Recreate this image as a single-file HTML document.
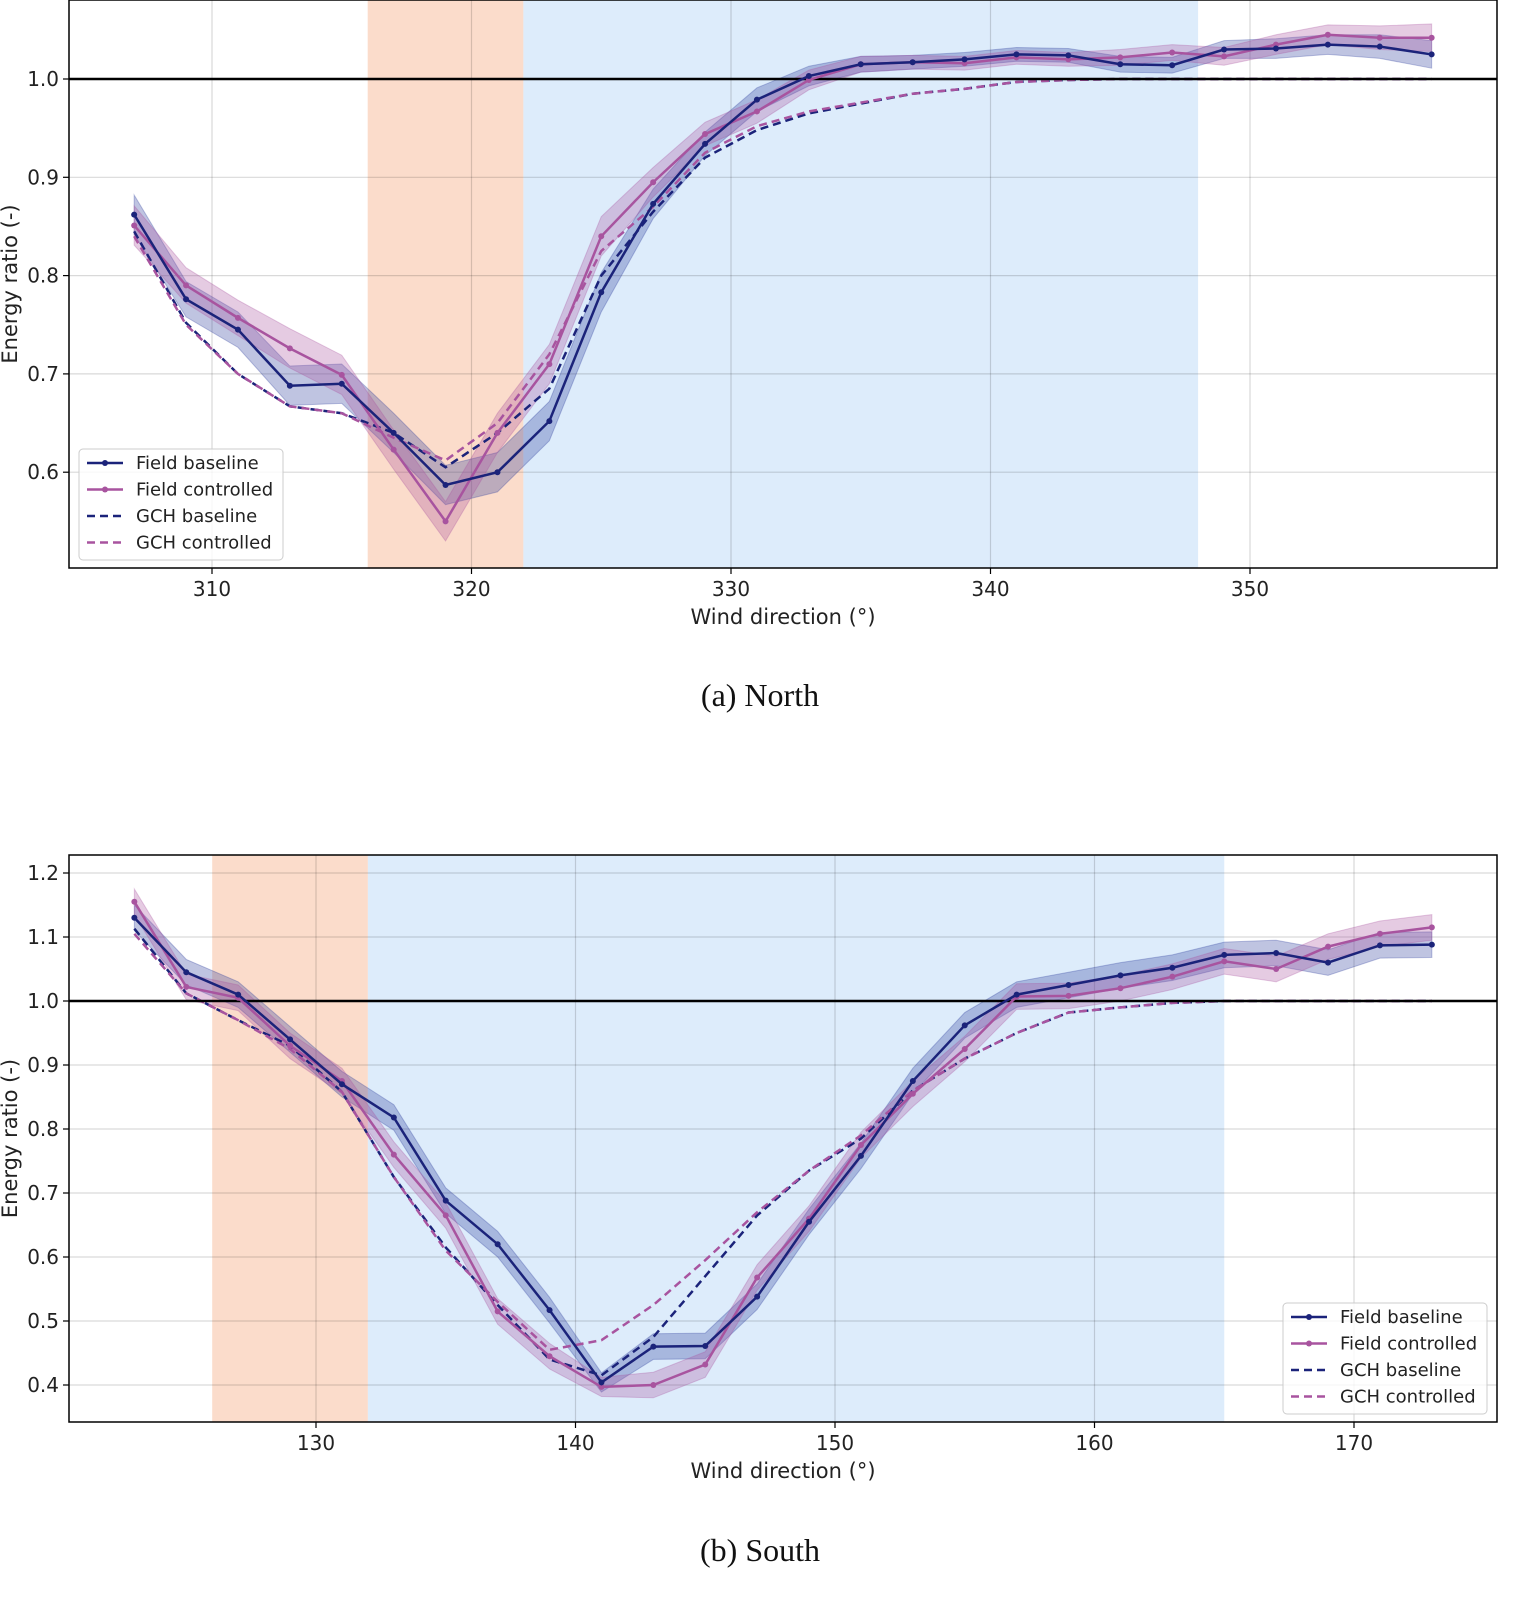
<!DOCTYPE html>
<html><head><meta charset="utf-8"><style>
body{margin:0;background:#fff;width:1530px;height:1601px;overflow:hidden}
svg{font-family:"DejaVu Sans","Liberation Sans",sans-serif}
</style></head><body>
<svg id="s" width="1530" height="1601" xmlns="http://www.w3.org/2000/svg"></svg>
<script>
const northDirs=[307,309,311,313,315,317,319,321,323,325,327,329,331,333,335,337,339,341,343,345,347,349,351,353,355,357];
const northFieldBase=[0.862,0.776,0.745,0.688,0.690,0.640,0.587,0.600,0.652,0.783,0.873,0.934,0.979,1.003,1.015,1.017,1.020,1.025,1.024,1.015,1.014,1.030,1.031,1.035,1.033,1.025];
const northFieldCtrl=[0.851,0.790,0.757,0.726,0.699,0.623,0.550,0.640,0.710,0.840,0.895,0.944,0.967,0.999,1.015,1.017,1.016,1.022,1.020,1.022,1.027,1.023,1.035,1.045,1.042,1.042];
const northGchBase=[0.845,0.752,0.700,0.667,0.660,0.640,0.605,0.640,0.685,0.800,0.865,0.920,0.948,0.965,0.975,0.985,0.990,0.997,0.999,1.0,1.0,1.0,1.0,1.0,1.0,1.0];
const northGchCtrl=[0.840,0.750,0.700,0.667,0.660,0.635,0.612,0.650,0.720,0.825,0.870,0.925,0.952,0.967,0.976,0.985,0.990,0.997,0.999,1.0,1.0,1.0,1.0,1.0,1.0,1.0];
const northBandW=[0.02,0.018,0.018,0.02,0.02,0.02,0.02,0.02,0.02,0.02,0.015,0.012,0.012,0.01,0.008,0.007,0.007,0.007,0.007,0.008,0.008,0.009,0.01,0.01,0.012,0.014];
const southDirs=[123,125,127,129,131,133,135,137,139,141,143,145,147,149,151,153,155,157,159,161,163,165,167,169,171,173];
const southFieldBase=[1.130,1.045,1.010,0.940,0.870,0.818,0.688,0.620,0.517,0.404,0.460,0.461,0.538,0.655,0.758,0.875,0.962,1.010,1.025,1.040,1.052,1.072,1.075,1.060,1.087,1.088];
const southFieldCtrl=[1.155,1.022,1.005,0.930,0.875,0.760,0.665,0.515,0.445,0.397,0.400,0.432,0.568,0.660,0.775,0.855,0.925,1.007,1.008,1.020,1.038,1.062,1.050,1.085,1.105,1.115];
const southGchBase=[1.113,1.012,0.970,0.930,0.858,0.725,0.615,0.525,0.440,0.415,0.475,0.570,0.665,0.735,0.785,0.860,0.910,0.950,0.982,0.990,0.997,1.0,1.0,1.0,1.0,1.0];
const southGchCtrl=[1.105,1.012,0.970,0.925,0.858,0.725,0.610,0.530,0.455,0.470,0.525,0.595,0.670,0.735,0.790,0.860,0.910,0.950,0.982,0.990,0.997,1.0,1.0,1.0,1.0,1.0];
const southBandW=[0.02,0.02,0.02,0.02,0.02,0.02,0.02,0.02,0.02,0.015,0.02,0.02,0.02,0.02,0.02,0.02,0.02,0.02,0.02,0.02,0.02,0.02,0.02,0.02,0.02,0.02];
const northXTicks=[310,320,330,340,350];
const northYTicks=[0.6,0.7,0.8,0.9,1.0];
const southXTicks=[130,140,150,160,170];
const southYTicks=[0.4,0.5,0.6,0.7,0.8,0.9,1.0,1.1,1.2];

const NS="http://www.w3.org/2000/svg";
const svg=document.getElementById('s');
function el(t,a,p){const e=document.createElementNS(NS,t);for(const k in a)e.setAttribute(k,a[k]);(p||svg).appendChild(e);return e;}
const NAVY="#1b237a",PURP="#a8549f";

function chart(o){
  const g=el('g',{});
  
  
  const X=v=>o.x0+(v-o.xv0)*o.xs, Y=v=>o.y0-(v-o.yv0)*o.ys;
  const L=69,R=1497;
  let r=el('rect',{x:X(o.orange[0]),y:o.top,width:X(o.orange[1])-X(o.orange[0]),height:o.bot-o.top,fill:"#fbdccb"},g);
  
  r=el('rect',{x:X(o.blue[0]),y:o.top,width:X(o.blue[1])-X(o.blue[0]),height:o.bot-o.top,fill:"#ddecfb"},g);
  
  o.xt.forEach(t=>{const x=X(t);
    el('line',{x1:x,x2:x,y1:o.top,y2:o.bot,stroke:"#000",'stroke-opacity':0.15,'stroke-width':1.2},g);
    el('line',{x1:x,x2:x,y1:o.bot,y2:o.bot+6,stroke:"#000",'stroke-width':1.2},g);
    const tx=el('text',{x:x,y:o.bot+28,'font-size':20,'text-anchor':'middle',fill:'#222'},g);tx.textContent=t;
    });
  o.yt.forEach(t=>{const y=Y(t);
    el('line',{x1:L,x2:R,y1:y,y2:y,stroke:"#000",'stroke-opacity':0.15,'stroke-width':1.2},g);
    el('line',{x1:L-6,x2:L,y1:y,y2:y,stroke:"#000",'stroke-width':1.2},g);
    const tx=el('text',{x:L-10,y:y+7,'font-size':20,'text-anchor':'end',fill:'#222'},g);tx.textContent=t.toFixed(1);
    });
  function band(vals,w,c,nm){
    let p=vals.map((v,i)=>X(o.d[i])+','+Y(v+w[i])).join(' ')+' '+vals.map((v,i)=>X(o.d[i])+','+Y(v-w[i])).reverse().join(' ');
    const b=el('polygon',{points:p,fill:c,'fill-opacity':0.3,stroke:c,'stroke-opacity':0.3},g);
    }
  band(o.fb,o.bw,"#2a3c9c",'field-baseline-band');
  band(o.fc,o.bw,PURP,'field-controlled-band');
  function line(vals,c,dash,nm,dots){
    const p=vals.map((v,i)=>X(o.d[i])+','+Y(v)).join(' ');
    const l=el('polyline',{points:p,fill:'none',stroke:c,'stroke-width':2.5,'stroke-dasharray':dash?'8,5':'none'},g);
    
    if(dots)vals.forEach((v,i)=>{const c2=el('circle',{cx:X(o.d[i]),cy:Y(v),r:3,fill:c},g);
      });}
  line(o.gb,NAVY,true,'gch-baseline-line',false);
  line(o.gc,PURP,true,'gch-controlled-line',false);
  const ref=el('line',{x1:L,x2:R,y1:Y(1),y2:Y(1),stroke:'#000','stroke-width':2.5},g);
  
  line(o.fc,PURP,false,'field-controlled-line',true);
  line(o.fb,NAVY,false,'field-baseline-line',true);
  el('rect',{x:L,y:o.top,width:R-L,height:o.bot-o.top,fill:'none',stroke:'#000','stroke-width':1.5},g);
  let t=el('text',{x:783,y:o.bot+56,'font-size':21,'text-anchor':'middle',fill:'#222'},g);t.textContent='Wind direction (°)';
  
  const cy=(o.top+o.bot)/2;
  t=el('text',{x:17,y:cy,'font-size':21,'text-anchor':'middle',fill:'#222',transform:`rotate(-90 17 ${cy})`},g);t.textContent='Energy ratio (-)';
  
  const lg=el('g',{},g);
  el('rect',{x:o.lx,y:o.ly,width:204,height:111,rx:4,fill:'#fff','fill-opacity':0.8,stroke:'#ccc'},lg);
  [['Field baseline',NAVY,false,true],['Field controlled',PURP,false,true],['GCH baseline',NAVY,true,false],['GCH controlled',PURP,true,false]].forEach((e,i)=>{
    const y=o.ly+14+i*26.5;
    el('line',{x1:o.lx+8,x2:o.lx+44,y1:y,y2:y,stroke:e[1],'stroke-width':2.5,'stroke-dasharray':e[2]?'8,5':'none'},lg);
    if(e[3])el('circle',{cx:o.lx+26,cy:y,r:3,fill:e[1]},lg);
    const tt=el('text',{x:o.lx+57,y:y+6,'font-size':18,fill:'#222'},lg);tt.textContent=e[0];
    });
  t=el('text',{x:760,y:o.cap,'font-size':32,'text-anchor':'middle','font-family':'Liberation Serif,serif',fill:'#111'},g);t.textContent=o.caption;
  
}
chart({name:'north-chart',x0:212,xv0:310,xs:25.95,y0:79,yv0:1.0,ys:983,top:0,bot:568,orange:[316,322],blue:[322,348],
 xt:northXTicks,yt:northYTicks,d:northDirs,fb:northFieldBase,fc:northFieldCtrl,gb:northGchBase,gc:northGchCtrl,bw:northBandW,lx:79,ly:449,cap:706,caption:'(a) North'});
chart({name:'south-chart',x0:316,xv0:130,xs:25.95,y0:1001,yv0:1.0,ys:640,top:855,bot:1422,orange:[126,132],blue:[132,165],
 xt:southXTicks,yt:southYTicks,d:southDirs,fb:southFieldBase,fc:southFieldCtrl,gb:southGchBase,gc:southGchCtrl,bw:southBandW,lx:1283,ly:1303,cap:1561,caption:'(b) South'});
</script>
</body></html>
